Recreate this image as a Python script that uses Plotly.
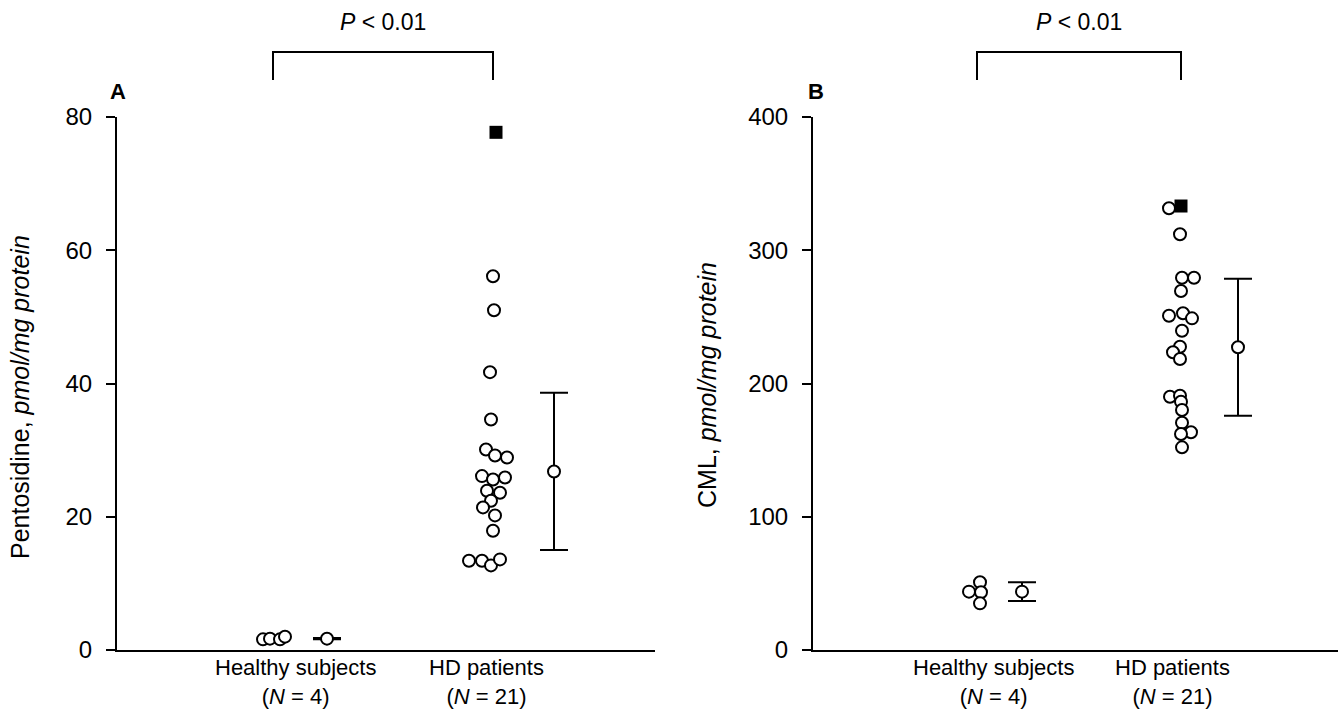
import plotly.graph_objects as go

W, H = 1338, 712
FONT = "Liberation Sans, Arial, Helvetica, sans-serif"
FS_TICK = 24
FS_LAB = 22
FS_P = 23
FS_TITLE = 25
FS_LETTER = 22

# ---------------- data ----------------
group_names = ["Healthy subjects", "HD patients"]
group_counts = ["(<i>N</i> = 4)", "(<i>N</i> = 21)"]
p_text = "<i>P</i> < 0.01"

# Panel A: pentosidine, pmol/mg protein
pent_healthy = [1.6, 1.7, 1.6, 2.0]
pent_hd_open = [56.1, 51.0, 41.7, 34.6, 30.1, 29.2, 28.9, 26.1, 25.6, 25.9,
                23.9, 23.6, 22.4, 21.4, 20.2, 17.9, 13.4, 13.4, 12.7, 13.6]
pent_hd_filled = [77.7]
pent_mean = [1.7, 26.8]
pent_sd = [0.1, 11.8]
pent_ticks = [0, 20, 40, 60, 80]

# Panel B: CML, pmol/mg protein
cml_healthy = [43.8, 50.8, 43.3, 35.0]
cml_hd_open = [331.5, 312.0, 279.4, 279.4, 269.4, 250.9, 252.7, 248.9, 239.6, 227.6,
               223.4, 218.4, 190.1, 190.8, 186.3, 180.1, 170.6, 163.4, 162.1, 152.1]
cml_hd_filled = [333.2]
cml_mean = [43.8, 227.2]
cml_sd = [7.0, 51.4]
cml_ticks = [0, 100, 200, 300, 400]

# ---------------- layout geometry (pixels) ----------------
# horizontal scatter offsets (px) to avoid overlap, as in the original dot plot
jit = {
    "A": dict(healthy=[-10, -3, 7, 12],
              hd_open=[0, 1, -3, -2, -7, 2, 14, -11, 0, 12, -6, 7, -2, -10, 2, 0, -24, -11, -2, 7],
              hd_filled=[3]),
    "B": dict(healthy=[-8, 3, 4, 3],
              hd_open=[-12, -1, 1, 13, 0, -12, 2, 11, 1, -1, -8, -1, -11, -1, 0, 1, 1, 10, 0, 1],
              hd_filled=[0]),
}
geom = {
    "A": dict(axis=117, right=655, g0=273, g1=493, mean_off=[54, 61], lab=[295, 486],
              ytitle_x=20, ytitle_y=397, letter_x=118),
    "B": dict(axis=813, right=1338, g0=977, g1=1181, mean_off=[45, 57], lab=[993, 1172],
              ytitle_x=707, ytitle_y=385, letter_x=816),
}
TOP, BOT = 117, 650


def py(p):
    return 1 - p / H


def units(panel, px):
    g = geom[panel]
    return (px - g["g0"]) / (g["g1"] - g["g0"])


fig = go.Figure()

open_circle = dict(symbol="circle", size=12, color="white", line=dict(width=2, color="black"))
square_marker = dict(symbol="square", size=13, color="black", line=dict(width=0))

panels = [
    ("A", "x", "y", pent_healthy, pent_hd_open, pent_hd_filled, pent_mean, pent_sd),
    ("B", "x2", "y2", cml_healthy, cml_hd_open, cml_hd_filled, cml_mean, cml_sd),
]

for name, xa, ya, healthy, hd_open, hd_filled, mean, sd in panels:
    g = geom[name]
    sc = g["g1"] - g["g0"]
    j = jit[name]
    fig.add_trace(go.Scatter(
        x=[0 + d / sc for d in j["healthy"]], y=healthy, mode="markers",
        marker=open_circle, xaxis=xa, yaxis=ya, showlegend=False, cliponaxis=False))
    fig.add_trace(go.Scatter(
        x=[1 + d / sc for d in j["hd_open"]], y=hd_open, mode="markers",
        marker=open_circle, xaxis=xa, yaxis=ya, showlegend=False, cliponaxis=False))
    fig.add_trace(go.Scatter(
        x=[1 + d / sc for d in j["hd_filled"]], y=hd_filled, mode="markers",
        marker=square_marker, xaxis=xa, yaxis=ya, showlegend=False, cliponaxis=False))
    fig.add_trace(go.Scatter(
        x=[i + g["mean_off"][i] / sc for i in range(2)], y=mean, mode="markers",
        marker=open_circle,
        error_y=dict(type="data", array=sd, visible=True, thickness=2, width=14, color="black"),
        xaxis=xa, yaxis=ya, showlegend=False, cliponaxis=False))

layout = dict(
    width=W, height=H, margin=dict(l=0, r=0, t=0, b=0, autoexpand=False),
    paper_bgcolor="white", plot_bgcolor="white",
    font=dict(family=FONT, size=FS_LAB, color="black"),
    showlegend=False,
)

annotations = []
shapes = []
for name, xa, ya, *_ in panels:
    g = geom[name]
    xkey = "xaxis" if xa == "x" else "xaxis2"
    ykey = "yaxis" if ya == "y" else "yaxis2"
    layout[xkey] = dict(
        domain=[g["axis"] / W, min(g["right"] / W, 1.0)],
        range=[units(name, g["axis"]), units(name, g["right"])],
        showline=True, linewidth=2, linecolor="black", showgrid=False, zeroline=False,
        showticklabels=False, ticks="", anchor=ya, fixedrange=True, automargin=False,
    )
    tv = pent_ticks if name == "A" else cml_ticks
    layout[ykey] = dict(
        domain=[py(BOT), py(TOP)], range=[tv[0], tv[-1]],
        tickvals=tv, ticktext=[str(t) for t in tv],
        showline=True, linewidth=2, linecolor="black", showgrid=False, zeroline=False,
        ticks="outside", ticklen=9, tickwidth=2, tickcolor="black",
        ticklabelstandoff=9, tickfont=dict(size=FS_TICK, family=FONT, color="black"),
        anchor=xa, fixedrange=True, automargin=False,
    )
    # category labels (two lines each, one text block)
    for i in range(2):
        xp = g["lab"][i] / W
        annotations.append(dict(x=xp, y=py(710), xref="paper", yref="paper",
                                text=group_names[i] + "<br>" + group_counts[i],
                                showarrow=False, xanchor="center", yanchor="bottom",
                                align="center", borderpad=0,
                                font=dict(size=FS_LAB, family=FONT)))
    # y title
    title = "Pentosidine, <i>pmol/mg protein</i>" if name == "A" else "CML, <i>pmol/mg protein</i>"
    annotations.append(dict(x=g["ytitle_x"] / W, y=py(g["ytitle_y"]), xref="paper", yref="paper",
                            text=title, textangle=-90, showarrow=False,
                            xanchor="center", yanchor="middle", font=dict(size=FS_TITLE, family=FONT)))
    # panel letter
    annotations.append(dict(x=g["letter_x"] / W, y=py(91), xref="paper", yref="paper",
                            text="<b>" + name + "</b>", showarrow=False,
                            xanchor="center", yanchor="middle", font=dict(size=FS_LETTER, family=FONT)))
    # significance bracket
    shapes.append(dict(type="path", xref=xa, yref="paper",
                       path=f"M 0,{py(80)} L 0,{py(52)} L 1,{py(52)} L 1,{py(80)}",
                       line=dict(color="black", width=2)))
    annotations.append(dict(x=0.5, y=py(22), xref=xa, yref="paper", text=p_text,
                            showarrow=False, xanchor="center", yanchor="middle",
                            font=dict(size=FS_P, family=FONT)))

layout["annotations"] = annotations
layout["shapes"] = shapes
fig.update_layout(**layout)

fig.write_html("out.html", config=dict(displayModeBar=False),
               post_script="document.body.style.margin='0';document.body.style.overflow='hidden';")
